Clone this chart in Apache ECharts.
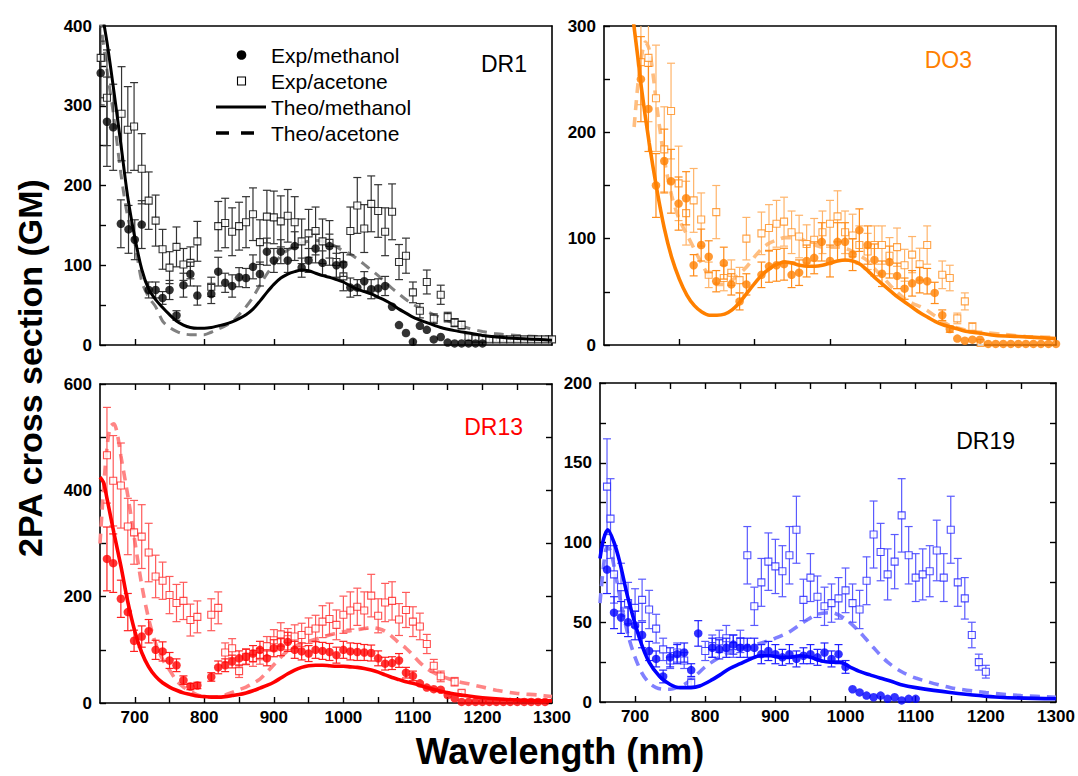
<!DOCTYPE html>
<html><head><meta charset="utf-8">
<script src="https://cdn.jsdelivr.net/npm/echarts@6/dist/echarts.min.js"></script>
<style>html,body{margin:0;padding:0;background:#fff}#c{width:1078px;height:776px}</style>
</head><body><div id="c"></div>
<script>
// ---------- tick values ----------
const xLabelsNm = [700, 800, 900, 1000, 1100, 1200, 1300];
const xTicksTopLeft = [700, 800, 900, 1000, 1100, 1200];
const xTicksTopRight = [700, 800, 900, 1000, 1100];
const xTicksBottom = [700, 750, 800, 850, 900, 950, 1000, 1050, 1100, 1150, 1200, 1250];
const yTicksDR1 = [0, 50, 100, 150, 200, 250, 300, 350, 400];
const yLabelsDR1 = [0, 100, 200, 300, 400];
const yTicksDO3 = [0, 50, 100, 150, 200, 250, 300];
const yLabelsDO3 = [0, 100, 200, 300];
const yTicksDR13 = [0, 100, 200, 300, 400, 500, 600];
const yLabelsDR13 = [0, 200, 400, 600];
const yTicksDR19 = [0, 25, 50, 75, 100, 125, 150, 175, 200];
const yLabelsDR19 = [0, 50, 100, 150, 200];

// ---------- DR1 ----------  [nm, value, error]
const DR1_expMethanol = [[651,341,40],[660,280,56],[669,273,54],[680,152,30],[691,145,30],[700,132,25],[710,151,30],[720,69,10],[730,69,10],[740,59,8],[750,69,12],[760,37,6],[770,75,15],[780,89,15],[790,62,12],[810,64,12],[820,92,18],[830,78,12],[840,74,14],[850,85,12],[860,84,12],[870,98,15],[880,89,15],[890,117,17],[900,106,15],[910,117,15],[920,106,15],[930,124,18],[940,97,12],[950,106,15],[960,121,18],[970,103,15],[980,124,15],[990,100,15],[1000,101,15],[1010,72,12],[1020,72,10],[1030,80,12],[1040,70,12],[1050,71,12],[1060,74,12],[1070,48,0],[1080,25,0],[1090,15,0],[1100,4,0],[1110,24,0],[1120,19,0],[1130,7,0],[1140,10,0],[1150,3,0],[1160,2,0],[1170,2,0],[1180,2,0],[1190,2,0],[1200,2,0]];
const DR1_expAcetone = [[651,360,50],[660,310,60],[681,290,59],[690,270,54],[699,274,55],[710,221,44],[720,181,36],[730,156,32],[740,120,25],[750,97,20],[760,123,25],[770,101,20],[780,103,20],[790,130,25],[810,73,12],[820,149,31],[830,153,31],[840,142,30],[850,149,30],[860,154,32],[870,164,33],[880,129,28],[890,161,33],[900,160,33],[910,155,32],[920,162,33],[930,154,32],[940,130,28],[950,140,30],[960,143,30],[970,130,28],[980,128,28],[990,104,20],[1000,86,18],[1010,143,30],[1020,175,35],[1030,146,30],[1040,177,35],[1050,168,33],[1060,142,30],[1070,167,35],[1080,104,22],[1090,112,22],[1100,66,13],[1110,43,9],[1120,79,15],[1130,33,6],[1140,63,12],[1150,35,6],[1160,28,5],[1170,25,5],[1180,10,3],[1190,8,3],[1200,8,3],[1210,7,3],[1220,7,3],[1230,7,3],[1240,7,3],[1250,7,3],[1260,7,3],[1270,7,3],[1280,7,3],[1290,7,3],[1300,7,3]];
const DR1_theoMethanol = [[650,430],[660,380],[670,318],[680,252],[690,185],[700,135],[710,95],[720,70],[730,57],[740,47],[750,38],[760,30],[770,25],[780,22],[790,21],[800,21],[810,22],[820,24],[830,26],[840,29],[850,33],[860,38],[870,45],[880,55],[890,66],[900,76],[910,84],[920,89],[930,92],[940,94],[950,93],[960,90],[970,87],[980,85],[990,82],[1000,79],[1010,74],[1020,70],[1030,67],[1040,64],[1050,60],[1060,56],[1070,51],[1080,45],[1090,40],[1100,35],[1120,28],[1140,22],[1160,18],[1180,15],[1200,12],[1220,10],[1250,8],[1300,6]];
const DR1_theoAcetone = [[650,410],[660,345],[670,285],[680,215],[690,160],[700,128],[710,80],[720,60],[730,48],[740,30],[750,22],[760,17],[770,14],[780,13],[790,13],[800,13],[810,16],[820,20],[830,24],[840,29],[850,38],[860,48],[870,60],[880,75],[890,89],[900,101],[910,112],[920,119],[930,124],[940,128],[950,130],[960,131],[970,130],[980,127],[990,123],[1000,118],[1010,114],[1020,108],[1030,101],[1040,94],[1050,87],[1060,79],[1070,71],[1080,64],[1090,57],[1100,51],[1120,42],[1140,34],[1160,27],[1180,21],[1200,17],[1220,14],[1250,12],[1300,10]];

// ---------- DO3 ----------
const DO3_expMethanol = [[649,250,40],[659,222,40],[669,150,30],[680,173,30],[689,154,30],[699,133,25],[709,138,25],[719,75,10],[729,94,15],[739,83,15],[749,60,10],[759,77,15],[769,57,10],[780,41,8],[789,57,10],[809,66,12],[819,74,15],[829,75,15],[839,76,15],[849,66,12],[859,68,12],[869,79,15],[879,82,15],[889,97,18],[900,79,15],[910,97,18],[920,97,18],[930,85,15],[939,108,20],[950,94,18],[959,80,15],[969,67,12],[979,78,15],[989,65,12],[999,53,10],[1009,58,12],[1019,61,12],[1029,60,12],[1039,49,10],[1049,28,5],[1059,15,3],[1069,6,0],[1079,4,0],[1089,5,0],[1099,5,0],[1110,1,0],[1120,1,0],[1130,1,0],[1140,1,0],[1150,1,0],[1160,1,0],[1170,1,0],[1180,1,0],[1190,1,0],[1200,1,0]];
const DO3_expAcetone = [[649,266,40],[659,270,60],[669,232,50],[680,184,40],[689,220,45],[699,152,35],[709,124,30],[719,136,30],[729,118,25],[739,66,12],[749,125,25],[759,63,12],[769,68,12],[780,61,12],[789,100,20],[809,105,20],[819,110,22],[829,114,22],[839,116,23],[849,106,20],[859,102,20],[869,95,18],[879,99,20],[890,106,20],[900,114,22],[910,121,24],[920,106,20],[930,103,20],[939,94,18],[950,88,17],[959,94,18],[969,94,18],[979,84,17],[989,92,18],[999,75,15],[1009,85,17],[1019,76,15],[1029,94,18],[1049,66,13],[1059,63,12],[1069,25,5],[1079,41,8],[1089,17,4],[1100,2,0]];
const DO3_theoMethanol = [[638,310],[645,270],[650,240],[660,190],[670,147],[680,110],[690,82],[700,62],[710,47],[720,37],[730,31],[740,28],[750,28],[760,29],[770,33],[780,40],[790,49],[800,58],[810,66],[820,72],[830,76],[840,78],[850,77],[860,75],[870,74],[880,74],[890,75],[900,77],[910,79],[920,80],[930,79],[940,76],[950,70],[960,63],[970,57],[980,51],[990,45],[1000,40],[1010,35],[1020,30],[1030,26],[1040,22],[1050,19],[1060,17],[1070,15],[1080,13],[1100,11],[1120,9],[1150,8],[1200,6]];
const DO3_theoAcetone = [[640,205],[645,245],[650,272],[655,285],[660,278],[665,255],[670,225],[680,175],[690,140],[700,118],[710,104],[720,90],[730,76],[740,64],[750,57],[760,57],[770,61],[780,67],[790,74],[800,83],[810,91],[820,96],[830,99],[840,101],[850,101],[860,100],[870,97],[880,94],[890,92],[900,92],[910,92],[920,91],[930,88],[940,84],[950,79],[960,71],[970,64],[980,56],[990,49],[1000,43],[1010,39],[1020,36],[1030,32],[1040,27],[1050,22],[1060,18],[1080,14],[1100,12],[1130,10],[1160,8],[1200,7]];

// ---------- DR13 ----------
const DR13_expMethanol = [[660,271,60],[669,263,55],[680,196,35],[690,171,35],[699,117,20],[710,125,20],[720,135,22],[730,100,18],[740,97,18],[750,80,15],[760,71,12],[770,43,8],[780,31,6],[790,33,6],[810,49,8],[820,67,12],[830,71,12],[840,78,12],[850,84,14],[860,87,14],[870,93,15],[880,100,16],[890,84,14],[900,103,16],[910,105,16],[920,115,18],[930,100,16],[940,97,16],[950,93,15],[960,100,16],[970,98,16],[980,96,16],[990,90,15],[1000,100,16],[1010,97,16],[1020,96,16],[1030,95,15],[1040,94,15],[1050,84,14],[1060,74,12],[1070,75,12],[1080,80,13],[1090,57,10],[1100,51,9],[1110,37,0],[1120,29,0],[1130,26,0],[1140,25,0],[1150,15,0],[1160,9,0],[1170,2,0],[1180,2,0],[1190,2,0],[1200,2,0],[1210,2,0],[1220,2,0],[1230,2,0],[1240,2,0],[1250,2,0],[1260,2,0],[1270,2,0],[1280,2,0],[1290,2,0]];
const DR13_expAcetone = [[660,466,90],[669,418,85],[680,409,80],[690,332,53],[699,321,60],[710,313,60],[720,283,55],[730,238,40],[740,230,35],[750,203,35],[760,188,35],[770,192,35],[780,156,30],[790,162,30],[810,166,30],[820,179,30],[830,95,18],[840,103,18],[850,60,12],[860,87,15],[870,84,15],[880,88,15],[890,107,18],[900,118,20],[910,129,22],[920,120,20],[930,125,22],[940,128,22],[950,136,24],[960,140,25],[970,153,30],[980,158,30],[990,147,28],[1000,166,35],[1010,174,35],[1020,181,35],[1030,174,35],[1040,202,40],[1050,164,32],[1060,189,36],[1070,192,36],[1080,157,30],[1090,175,33],[1100,153,28],[1110,144,25],[1120,111,18],[1130,70,12],[1140,50,10],[1160,40,8],[1170,19,4]];
const DR13_theoMethanol = [[650,425],[655,415],[660,385],[670,320],[680,258],[690,190],[700,135],[710,95],[720,68],[730,50],[740,38],[750,30],[760,24],[770,19],[780,16],[790,13],[800,12],[810,11],[820,11],[830,12],[840,14],[850,16],[860,19],[870,23],[880,28],[890,33],[900,39],[910,47],[920,55],[930,62],[940,67],[950,70],[960,71],[970,71],[980,70],[990,69],[1000,69],[1010,68],[1020,67],[1030,65],[1040,62],[1050,58],[1060,53],[1070,48],[1080,44],[1090,40],[1100,37],[1120,29],[1140,22],[1160,17],[1180,13],[1200,10],[1230,7],[1260,5],[1300,4]];
const DR13_theoAcetone = [[650,300],[655,400],[660,480],[665,520],[670,525],[675,505],[680,465],[690,390],[700,305],[710,222],[720,158],[730,112],[740,82],[750,62],[760,42],[770,30],[780,22],[790,15],[800,12],[810,11],[820,12],[830,15],[840,20],[850,25],[860,30],[870,37],[880,45],[890,58],[900,72],[910,86],[920,98],[930,106],[940,112],[950,116],[960,120],[970,124],[980,128],[990,131],[1000,134],[1010,136],[1020,138],[1030,140],[1040,142],[1050,140],[1060,135],[1070,125],[1080,113],[1090,103],[1100,90],[1110,76],[1120,65],[1130,57],[1140,51],[1160,42],[1180,36],[1200,30],[1220,24],[1250,18],[1280,15],[1300,12]];

// ---------- DR19 ----------
const DR19_expMethanol = [[660,83,15],[670,56,10],[680,53,10],[690,50,9],[700,48,9],[710,42,8],[720,32,6],[730,27,5],[740,16,4],[750,28,6],[760,30,6],[770,31,6],[780,20,4],[790,43,8],[810,34,6],[820,33,6],[830,34,6],[840,36,6],[850,34,6],[860,34,6],[870,34,6],[880,30,6],[890,32,6],[900,30,6],[910,28,5],[920,30,6],[930,27,5],[940,29,5],[950,30,6],[960,28,5],[970,31,6],[980,27,5],[990,30,6],[1000,22,4],[1010,8,0],[1020,6,0],[1030,4,0],[1040,3,0],[1050,4,0],[1060,2,0],[1070,3,0],[1080,1,0],[1090,2,0],[1100,2,0]];
const DR19_expAcetone = [[660,135,30],[665,115,25],[670,80,18],[680,72,15],[690,62,13],[700,59,12],[710,64,13],[720,58,12],[730,46,9],[740,33,7],[750,26,5],[760,31,6],[770,26,5],[780,12,3],[800,32,6],[810,35,7],[820,38,7],[830,40,8],[840,35,7],[850,38,7],[860,92,18],[870,60,12],[880,75,15],[890,88,18],[900,85,17],[910,82,16],[920,92,18],[930,108,21],[940,64,13],[950,78,15],[960,66,13],[970,60,12],[980,62,12],[990,65,13],[1000,70,14],[1010,62,12],[1020,58,12],[1030,76,15],[1040,105,21],[1050,94,18],[1060,80,16],[1070,88,17],[1080,117,23],[1090,92,18],[1100,78,15],[1110,80,16],[1120,82,16],[1130,95,19],[1140,78,15],[1150,108,21],[1160,75,15],[1170,65,13],[1180,42,8],[1190,25,5],[1200,19,4]];
const DR19_theoMethanol = [[650,90],[655,102],[661,108],[670,100],[678,88],[690,65],[707,39],[720,25],[735,16],[750,11],[764,9],[780,9],[792,10],[810,14],[821,17],[835,21],[850,24],[865,27],[878,29],[893,29],[907,28],[920,28],[935,29],[950,28],[964,26],[978,25],[992,25],[1006,22],[1021,19],[1035,17],[1049,15],[1065,13],[1078,11],[1100,9],[1149,6],[1220,3],[1300,2]];
const DR19_theoAcetone = [[650,62],[655,85],[660,97],[665,95],[670,85],[680,62],[690,42],[700,28],[710,18],[720,12],[730,9],[740,8],[750,8],[760,9],[770,11],[780,14],[790,18],[800,22],[820,28],[840,32],[860,35],[880,37],[900,40],[920,44],[940,50],[960,55],[980,56],[1000,52],[1020,44],[1040,34],[1060,25],[1080,19],[1100,15],[1150,9],[1200,6],[1250,4],[1300,3]];

// ---------- helpers ----------
const FONT = 'Liberation Sans, Arial, Helvetica, sans-serif';
const chart = echarts.init(document.getElementById('c'), null, {renderer: 'svg'});

const panels = [
  {left: 100, top: 26, width: 452, height: 319, xmin: 650, xmax: 1300, ymax: 400,
   xTicks: xTicksTopLeft, xLabels: null, yTicks: yTicksDR1, yLabels: yLabelsDR1, mirrorTicks: false},
  {left: 604, top: 26, width: 452, height: 319, xmin: 600, xmax: 1200, ymax: 300,
   xTicks: xTicksTopRight, xLabels: null, yTicks: yTicksDO3, yLabels: yLabelsDO3, mirrorTicks: false},
  {left: 100, top: 384, width: 452, height: 319, xmin: 650, xmax: 1300, ymax: 600,
   xTicks: xTicksBottom, xLabels: xLabelsNm, yTicks: yTicksDR13, yLabels: yLabelsDR13, mirrorTicks: true},
  {left: 600, top: 383, width: 456, height: 319, xmin: 650, xmax: 1300, ymax: 200,
   xTicks: xTicksBottom, xLabels: xLabelsNm, yTicks: yTicksDR19, yLabels: yLabelsDR19, mirrorTicks: true}
];

const grids = [], xAxes = [], yAxes = [];
const axLine = {show: true, onZero: false, lineStyle: {color: '#000', width: 1.6}};
const plain = v => String(v);
panels.forEach((p, i) => {
  grids.push({left: p.left, top: p.top, width: p.width, height: p.height, containLabel: false});
  xAxes.push({type: 'value', gridIndex: i, position: 'bottom', min: p.xmin, max: p.xmax,
    axisLine: axLine, splitLine: {show: false},
    axisTick: {show: true, inside: true, length: 6, lineStyle: {color: '#000', width: 1.4}, customValues: p.xTicks},
    axisLabel: p.xLabels ? {show: true, customValues: p.xLabels, formatter: plain, color: '#000', fontSize: 17, fontWeight: 'bold', fontFamily: FONT, margin: 6}
                          : {show: false}});
  xAxes.push({type: 'value', gridIndex: i, position: 'top', min: p.xmin, max: p.xmax,
    axisLine: axLine, splitLine: {show: false},
    axisTick: {show: p.mirrorTicks, inside: true, length: 6, lineStyle: {color: '#000', width: 1.4}, customValues: p.xTicks},
    axisLabel: {show: false}});
  yAxes.push({type: 'value', gridIndex: i, position: 'left', min: 0, max: p.ymax,
    axisLine: axLine, splitLine: {show: false},
    axisTick: {show: true, inside: true, length: 6, lineStyle: {color: '#000', width: 1.4}, customValues: p.yTicks},
    axisLabel: {show: true, customValues: p.yLabels, formatter: plain, color: '#000', fontSize: 17, fontWeight: 'bold', fontFamily: FONT, margin: 8}});
  yAxes.push({type: 'value', gridIndex: i, position: 'right', min: 0, max: p.ymax,
    axisLine: axLine, splitLine: {show: false},
    axisTick: {show: p.mirrorTicks, inside: true, length: 6, lineStyle: {color: '#000', width: 1.4}, customValues: p.yTicks},
    axisLabel: {show: false}});
});

function errSeries(data, g, color, z) {
  return {
    type: 'custom', xAxisIndex: 2 * g, yAxisIndex: 2 * g, silent: true, z: z, clip: true,
    data: data.filter(d => d[2] > 0).map(d => [d[0], d[1] - d[2], d[1] + d[2]]),
    encode: {x: 0, y: [1, 2]},
    renderItem: (params, api) => {
      const lo = api.coord([api.value(0), api.value(1)]);
      const hi = api.coord([api.value(0), api.value(2)]);
      const w = 4, st = {stroke: color, lineWidth: 1.2};
      return {type: 'group', children: [
        {type: 'line', shape: {x1: lo[0], y1: lo[1], x2: hi[0], y2: hi[1]}, style: st},
        {type: 'line', shape: {x1: lo[0] - w, y1: lo[1], x2: lo[0] + w, y2: lo[1]}, style: st},
        {type: 'line', shape: {x1: hi[0] - w, y1: hi[1], x2: hi[0] + w, y2: hi[1]}, style: st}
      ]};
    }
  };
}
function dots(data, g, color, z) {
  return {type: 'scatter', xAxisIndex: 2 * g, yAxisIndex: 2 * g, symbol: 'circle', symbolSize: 8.5, z: z, silent: true,
    data: data.map(d => [d[0], d[1]]), itemStyle: {color: color}};
}
function squares(data, g, color, z) {
  return {type: 'scatter', xAxisIndex: 2 * g, yAxisIndex: 2 * g, symbol: 'rect', symbolSize: 7, z: z, silent: true,
    data: data.map(d => [d[0], d[1]]), itemStyle: {color: '#fff', borderColor: color, borderWidth: 1.1}};
}
function curve(data, g, color, width, dashed, z) {
  return {type: 'line', xAxisIndex: 2 * g, yAxisIndex: 2 * g, data: data, showSymbol: false, smooth: 0.3, z: z, silent: true,
    clip: true, lineStyle: {color: color, width: width, type: dashed ? [10, 7] : 'solid'}};
}

const sets = [
  {g: 0, meth: DR1_expMethanol, acet: DR1_expAcetone, tm: DR1_theoMethanol, ta: DR1_theoAcetone,
   c: '#000000', cErrM: '#333333', cSq: '#000000', cErrA: '#333333', cDash: '#808080', w: 3},
  {g: 1, meth: DO3_expMethanol, acet: DO3_expAcetone, tm: DO3_theoMethanol, ta: DO3_theoAcetone,
   c: '#FF8000', cErrM: '#FF8C1A', cSq: '#FF8C1A', cErrA: '#FFB46A', cDash: '#FFBE80', w: 3.6},
  {g: 2, meth: DR13_expMethanol, acet: DR13_expAcetone, tm: DR13_theoMethanol, ta: DR13_theoAcetone,
   c: '#FF0000', cErrM: '#FF2020', cSq: '#FF2020', cErrA: '#FF5A5A', cDash: '#FF8585', w: 3.6},
  {g: 3, meth: DR19_expMethanol, acet: DR19_expAcetone, tm: DR19_theoMethanol, ta: DR19_theoAcetone,
   c: '#0000FF', cErrM: '#2020FF', cSq: '#2020FF', cErrA: '#5A5AFF', cDash: '#8080FF', w: 3.6}
];
const series = [];
sets.forEach(s => {
  series.push(curve(s.ta, s.g, s.cDash, s.w, true, 2));
  series.push(errSeries(s.acet, s.g, s.cErrA, 3));
  series.push(squares(s.acet, s.g, s.cSq, 4));
  series.push(errSeries(s.meth, s.g, s.cErrM, 5));
  series.push(curve(s.tm, s.g, s.c, s.w, false, 6));
  series.push(dots(s.meth, s.g, s.c, 7));
});

const txt = (x, y, text, font, color, extra) => Object.assign({type: 'text', x: x, y: y, z: 100,
  style: Object.assign({text: text, fill: color, font: font + ' ' + FONT, textVerticalAlign: 'middle'}, extra || {})});

const graphic = [
  {type: 'circle', shape: {cx: 241.5, cy: 55, r: 4.8}, style: {fill: '#000'}, z: 100},
  {type: 'rect', shape: {x: 237.5, y: 77, width: 8, height: 8}, style: {fill: '#fff', stroke: '#000', lineWidth: 1.1}, z: 100},
  {type: 'line', shape: {x1: 216, y1: 107, x2: 266, y2: 107}, style: {stroke: '#000', lineWidth: 3}, z: 100},
  {type: 'line', shape: {x1: 216, y1: 133, x2: 266, y2: 133}, style: {stroke: '#000', lineWidth: 3.5, lineDash: [13, 12]}, z: 100},
  txt(271, 55, 'Exp/methanol', '21px', '#000'),
  txt(271, 81, 'Exp/acetone', '21px', '#000'),
  txt(271, 107, 'Theo/methanol', '21px', '#000'),
  txt(271, 133, 'Theo/acetone', '21px', '#000'),
  txt(527, 64, 'DR1', '23px', '#000', {textAlign: 'right'}),
  txt(972, 60, 'DO3', '23px', '#FF8000', {textAlign: 'right'}),
  txt(523, 427, 'DR13', '23px', '#FF0000', {textAlign: 'right'}),
  txt(1015, 441, 'DR19', '23px', '#000', {textAlign: 'right'}),
  {type: 'text', x: 30, y: 368, rotation: Math.PI / 2, z: 100,
   style: {text: '2PA cross section (GM)', fill: '#000', font: 'bold 34px ' + FONT, textAlign: 'center', textVerticalAlign: 'middle'}},
  txt(560, 751, 'Wavelength (nm)', 'bold 36px', '#000', {textAlign: 'center'})
];

chart.setOption({
  animation: false,
  backgroundColor: '#fff',
  grid: grids, xAxis: xAxes, yAxis: yAxes, series: series, graphic: graphic
});
</script></body></html>
